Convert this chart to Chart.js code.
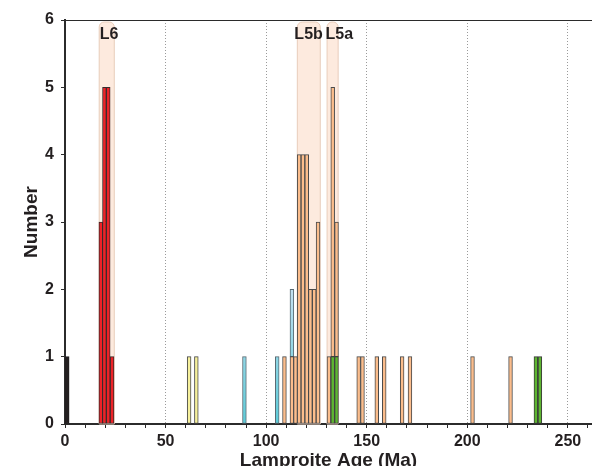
<!DOCTYPE html>
<html>
<head>
<meta charset="utf-8">
<script src="https://cdn.jsdelivr.net/npm/chart.js@4/dist/chart.umd.min.js"></script>
<style>
  html, body { margin: 0; padding: 0; background: #fff; }
  #wrap { width: 592px; height: 466px; position: relative; }
</style>
</head>
<body>
<div id="wrap"><canvas id="ageChart"></canvas></div>
<script>
// ages (Ma) and counts per lamproite group
const blackAges = [1.1];
const blackCounts = [1];
const redAges = [17.8, 19.6, 21.5, 23.4];
const redCounts = [3, 5, 5, 1];
const yellowAges = [61.7, 65.3];
const yellowCounts = [1, 1];
const greenAges = [133.1, 135.0, 234.1, 236.1];
const greenCounts = [1, 1, 1, 1];
const peachAges = [109.1, 112.8, 114.6, 116.4, 118.3, 120.2, 122.0, 123.9, 125.8,
    131.2, 133.1, 135.0, 146.0, 147.9, 155.0, 158.7, 167.6, 171.5, 202.6, 221.5];
const peachCounts = [1, 1, 1, 4, 4, 4, 2, 2, 3, 1, 4, 2, 1, 1, 1, 1, 1, 1, 1, 1];
const blueAges = [89.2, 105.5, 112.8];
const blueCounts = [1, 1, 1];

// magmatic episodes
const bandNames = ["L6", "L5b", "L5a"];
const bandStart = [17.0, 115.5, 130.3];
const bandEnd = [24.5, 126.9, 135.8];
const bandLabelX = [21.9, 121.1, 136.4];

const xTicks = [0, 50, 100, 150, 200, 250];

const pairs = (xs, ys) => xs.map((x, i) => ({ x: x, y: ys[i] }));

const blueFill = (context) => {
    const area = context.chart.chartArea;
    if (!area) return "#a8dcec";
    const g = context.chart.ctx.createLinearGradient(0, area.top + 260, 0, area.bottom);
    g.addColorStop(0, "#c9e2f3");
    g.addColorStop(1, "#5ccbd8");
    return g;
};

const bandsPlugin = {
    id: "bands",
    beforeDatasetsDraw(chart) {
        const { ctx, chartArea, scales } = chart;
        ctx.save();
        bandNames.forEach((name, i) => {
            const x0 = scales.x.getPixelForValue(bandStart[i]);
            const x1 = scales.x.getPixelForValue(bandEnd[i]);
            const top = scales.y.getPixelForValue(6) + 2;
            ctx.beginPath();
            ctx.roundRect(x0, top, x1 - x0, chartArea.bottom - top, [5, 5, 0, 0]);
            ctx.fillStyle = "#fdeade";
            ctx.fill();
            ctx.strokeStyle = "#e8cdbb";
            ctx.lineWidth = 1;
            ctx.stroke();
        });
        ctx.restore();
    },
    afterDatasetsDraw(chart) {
        const { ctx, scales } = chart;
        ctx.save();
        ctx.font = "bold 16px 'Liberation Sans', Arial, sans-serif";
        ctx.fillStyle = "#231f20";
        ctx.textAlign = "center";
        ctx.textBaseline = "middle";
        bandNames.forEach((name, i) => {
            ctx.fillText(name, scales.x.getPixelForValue(bandLabelX[i]), scales.y.getPixelForValue(5.78));
        });
        ctx.restore();
    }
};

const barSet = (label, xs, ys, fill, border) => ({
    label: label,
    data: pairs(xs, ys),
    backgroundColor: fill,
    borderColor: border,
    borderWidth: 1,
    borderSkipped: false,
    barThickness: 3.8
});

const ctx = document.getElementById("ageChart");
const labelFont = { family: "'Liberation Sans', Arial, sans-serif", weight: "bold", size: 16 };

new Chart(ctx, {
    type: "bar",
    data: {
        datasets: [
            barSet("Black", blackAges, blackCounts, "#231f20", "#231f20"),
            barSet("Red", redAges, redCounts, "#ed2227", "#3a2a2a"),
            barSet("Yellow", yellowAges, yellowCounts, "#f7f19c", "#4a4a4a"),
            barSet("Green", greenAges, greenCounts, "#5db531", "#3a3a3a"),
            barSet("Peach", peachAges, peachCounts, "#fbbd8c", "#4a4a4a"),
            barSet("Blue", blueAges, blueCounts, blueFill, "#5a6a72")
        ]
    },
    options: {
        responsive: true,
        maintainAspectRatio: false,
        animation: false,
        layout: { padding: { top: 20, right: 0, left: 0, bottom: 0 } },
        plugins: {
            legend: { display: false },
            tooltip: { enabled: false }
        },
        scales: {
            x: {
                type: "linear",
                stacked: true,
                offset: false,
                min: 0,
                max: 262,
                afterFit: (s) => { s.height = 42; },
                border: { color: "#2b2b2b", width: 2, dash: [1, 2] },
                grid: {
                    offset: false,
                    drawOnChartArea: true,
                    tickLength: 4,
                    tickColor: "#2b2b2b",
                    lineWidth: 1,
                    color: (c) => (c.tick && c.tick.value > 0 && xTicks.includes(c.tick.value) ? "#9a9a9a" : "transparent")
                },
                ticks: {
                    stepSize: 10,
                    autoSkip: false,
                    includeBounds: false,
                    maxRotation: 0,
                    padding: 4,
                    color: "#231f20",
                    font: labelFont,
                    callback: (v) => (xTicks.includes(v) ? String(v) : "")
                },
                title: {
                    display: true,
                    text: "Lamproite Age (Ma)",
                    color: "#231f20",
                    font: { family: "'Liberation Sans', Arial, sans-serif", weight: "bold", size: 19, lineHeight: 0.6 },
                    padding: { top: 0, bottom: 0 }
                }
            },
            y: {
                stacked: true,
                min: 0,
                max: 6,
                afterFit: (s) => { s.width = 65; },
                border: { color: "#2b2b2b", width: 2 },
                grid: {
                    tickLength: 4,
                    tickColor: "#2b2b2b",
                    color: (c) => (c.tick && c.tick.value === 6 ? "#2b2b2b" : "transparent")
                },
                ticks: {
                    stepSize: 1,
                    padding: 7,
                    color: "#231f20",
                    font: labelFont
                },
                title: {
                    display: true,
                    text: "Number",
                    color: "#231f20",
                    font: { family: "'Liberation Sans', Arial, sans-serif", weight: "bold", size: 19, lineHeight: 1 },
                    padding: { top: 22, bottom: 0 }
                }
            }
        }
    },
    plugins: [bandsPlugin]
});
</script>
</body>
</html>
